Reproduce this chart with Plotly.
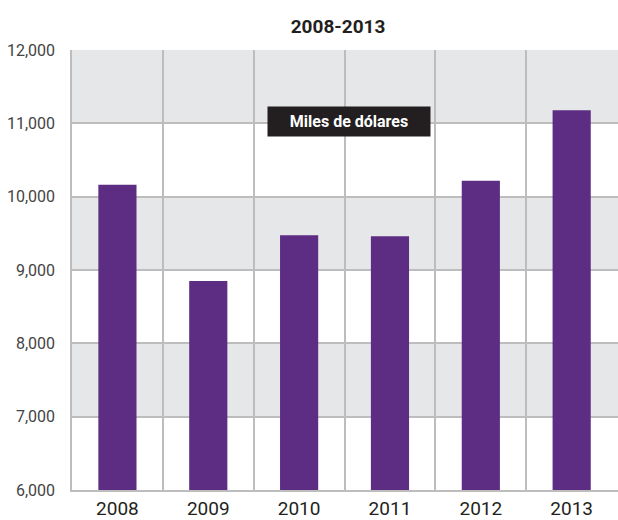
import plotly.graph_objects as go

# Datos
years = ["2008", "2009", "2010", "2011", "2012", "2013"]
values = [10162, 8851, 9473, 9459, 10216, 11180]
band_ranges = [(11000, 12000), (9000, 10000), (7000, 8000)]  # franjas grises
y_ticks = [6000, 7000, 8000, 9000, 10000, 11000, 12000]
title_text = "2008-2013"
unit_text = "Miles de dólares"

FONT = "Roboto, Inter, sans-serif"
GRID = "#bdbdbd"

fig = go.Figure()

fig.add_trace(go.Bar(
    x=years, y=values,
    marker=dict(color="#5c2d83", line_width=0),
    width=0.42,
    hoverinfo="x+y",
))

# franjas de fondo
for y0, y1 in band_ranges:
    fig.add_shape(type="rect", xref="paper", yref="y",
                  x0=0, x1=1, y0=y0, y1=y1,
                  fillcolor="#e6e7e9", line_width=0, layer="below")

fig.add_annotation(
    text="<b>" + unit_text + "</b>",
    xref="paper", yref="paper", x=0.507, y=0.838,
    xanchor="center", yanchor="middle",
    showarrow=False,
    font=dict(family=FONT, size=16, color="white"),
    bgcolor="#231f20", borderpad=5,
    width=152, height=19,
)

fig.update_layout(
    width=618, height=520,
    margin=dict(l=72, r=0, t=50, b=22),
    paper_bgcolor="white",
    plot_bgcolor="white",
    showlegend=False,
    title=dict(text="<b>" + title_text + "</b>", x=0.547, xanchor="center",
               y=0.95, yanchor="middle",
               font=dict(family=FONT, size=19, color="#231f20")),
    xaxis=dict(
        type="category",
        tickson="boundaries",
        range=[-0.5, 5.51],
        showgrid=True, gridcolor=GRID, gridwidth=1.5,
        showline=True, linecolor=GRID, linewidth=1.5,
        ticks="", ticklabelstandoff=0,
        tickfont=dict(family=FONT, size=19, color="#231f20"),
    ),
    yaxis=dict(
        range=[6000, 12000],
        tickvals=y_ticks,
        tickformat=",d",
        showgrid=True, gridcolor=GRID, gridwidth=1.5,
        showline=True, linecolor=GRID, linewidth=1.5,
        zeroline=False,
        ticks="", ticklabelstandoff=12,
        tickfont=dict(family=FONT, size=16, color="#444444"),
    ),
)

# quitar el margen por defecto del body para que la figura ocupe la ventana
fig.write_html("out.html",
               config={"displayModeBar": False},
               post_script="document.body.style.margin='0';"
                           "document.body.style.overflow='hidden';")
